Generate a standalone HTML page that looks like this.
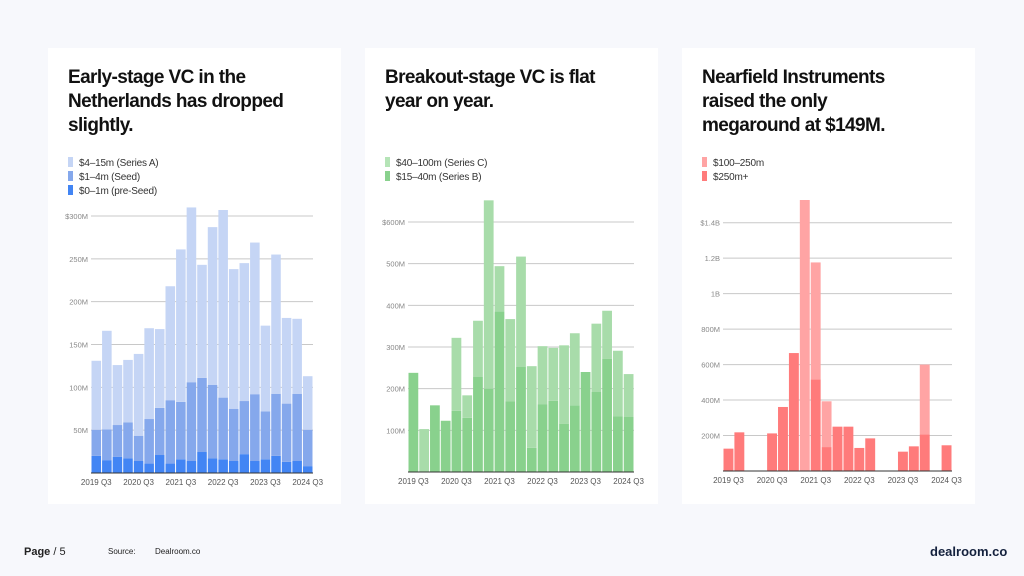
<!DOCTYPE html>
<html><head><meta charset="utf-8">
<style>
body{margin:0;width:1024px;height:576px;background:#f7f8fc;font-family:"Liberation Sans",sans-serif;position:relative;overflow:hidden}
.card{position:absolute;top:48px;width:293px;height:456px;background:#fff}
.title{position:absolute;left:20px;top:18px;font-weight:bold;font-size:19px;line-height:24px;letter-spacing:-0.6px;color:#111;white-space:nowrap}
.leg{position:absolute;left:20px;font-size:10px;color:#333;letter-spacing:-0.2px}
.leg span{display:inline-block;width:5px;height:10px;vertical-align:-1px;margin-right:6px}
svg{position:absolute;left:0;top:0}
.foot{position:absolute;font-size:10px;color:#222}
</style></head><body>
<div class="card" style="left:48px">
<div class="title">Early-stage VC in the<br>Netherlands has dropped<br>slightly.</div>
<div class="leg" style="top:109px"><span style="background:#c5d5f5"></span>$4–15m (Series A)</div>
<div class="leg" style="top:123px"><span style="background:#85a8ec"></span>$1–4m (Seed)</div>
<div class="leg" style="top:137px"><span style="background:#4285f4"></span>$0–1m (pre-Seed)</div>
</div>
<div class="card" style="left:365px">
<div class="title">Breakout-stage VC is flat<br>year on year.</div>
<div class="leg" style="top:109px"><span style="background:#b5e4b7"></span>$40–100m (Series C)</div>
<div class="leg" style="top:123px"><span style="background:#89d18d"></span>$15–40m (Series B)</div>
</div>
<div class="card" style="left:682px">
<div class="title">Nearfield Instruments<br>raised the only<br>megaround at $149M.</div>
<div class="leg" style="top:109px"><span style="background:#ffa4a4"></span>$100–250m</div>
<div class="leg" style="top:123px"><span style="background:#ff7b7b"></span>$250m+</div>
</div>
<svg id="charts" width="1024" height="576"></svg>
<div class="foot" style="left:24px;top:546px;font-size:11px"><b>Page</b> / 5</div>
<div class="foot" style="left:108px;top:547px;font-size:8px">Source:</div>
<div class="foot" style="left:155px;top:547px;font-size:8px">Dealroom.co</div>
<div class="foot" style="left:930px;top:544px;font-size:13px;font-weight:bold;color:#14213d">dealroom.co</div>
<script>
const xLabels=["2019 Q3","","","","2020 Q3","","","","2021 Q3","","","","2022 Q3","","","","2023 Q3","","","","2024 Q3"];
// chart 1 (stacked components, $M)
const preSeed=[20,15,19,17,14,11,21,11,16,14,24.5,17,16,14,22,14,16,20,13,14,8];
const seed=[30.5,36,37,42,29.5,52,55,74,67,92,86.5,86,72,61,62,78,56,72.5,68,78.5,42.5];
const seriesA=[80.5,115,70,73,95.5,106,92,133,178,204,132,184,219,163,161,177,100,162.5,100,87.5,62.5];
const ticks1=[50,100,150,200,250,300];
const tickLabels1=["50M","100M","150M","200M","250M","$300M"];
// chart 2
const seriesB=[238,0,160,123,147,130,228,200,385,170,252,58,162,171,116,160,240,192,272,134,132];
const seriesC=[0,103,0,0,175,54,135,452,109,197,265,196,140,127,188,173,0,164,115,157,103];
const ticks2=[100,200,300,400,500,600];
const tickLabels2=["100M","200M","300M","400M","500M","$600M"];
// chart 3
const big=[126,218,0,0,212,361,665,0,517,135,250,250,130,184,0,0,109,139,207,0,145];
const mid=[0,0,0,0,0,0,0,1528,659,258,0,0,0,0,0,0,0,0,393,0,0];
const ticks3=[200,400,600,800,1000,1200,1400];
const tickLabels3=["200M","400M","600M","800M","1B","1.2B","$1.4B"];

const svg=document.getElementById('charts');
const NS='http://www.w3.org/2000/svg';
function mk(t,a){const e=document.createElementNS(NS,t);for(const k in a)e.setAttribute(k,a[k]);svg.appendChild(e);return e;}
function chart(id,x0,x1,y0,maxV,maxY,ticks,tl,series,colors){
  const ys=v=>y0-(v/maxV)*(y0-maxY);
  ticks.forEach((t,i)=>{
    const l=mk('line',{x1:x0,x2:x1,y1:ys(t),y2:ys(t),stroke:'#c8c8c8','stroke-width':1});
    
    
    const tx=mk('text',{x:x0-3,y:ys(t)+3,'font-size':7.5,fill:'#888','text-anchor':'end'});
    tx.textContent=tl[i];
    
    
  });
  const n=series[0].length, step=(x1-x0)/n, bw=step-1;
  for(let i=0;i<n;i++){
    let acc=0;
    series.forEach((s,k)=>{
      if(s[i]>0){
        const r=mk('rect',{x:x0+i*step+0.5,y:ys(acc+s[i]),width:bw,height:ys(acc)-ys(acc+s[i]),fill:colors[k]});
        
        
      }
      acc+=s[i];
    });
    if(xLabels[i]){
      const tx=mk('text',{x:x0+i*step+step/2,y:y0+12,'font-size':8,fill:'#555','text-anchor':'middle'});
      tx.textContent=xLabels[i];
      
      
    }
  }
  const ax=mk('line',{x1:x0,x2:x1,y1:y0,y2:y0,stroke:'#333','stroke-width':1});
  
  
}
chart('early',91,313,473,300,216,ticks1,tickLabels1,[preSeed,seed,seriesA],['#4285f4','#85a8ec','#c5d5f5']);
chart('breakout',408,634,472,600,222,ticks2,tickLabels2,[seriesB,seriesC],['#89d18d','#a8dcaa']);
chart('mega',723,952,471,1400,222.7,ticks3,tickLabels3,[big,mid],['#ff7b7b','#ffa4a4']);
</script>
</body></html>
